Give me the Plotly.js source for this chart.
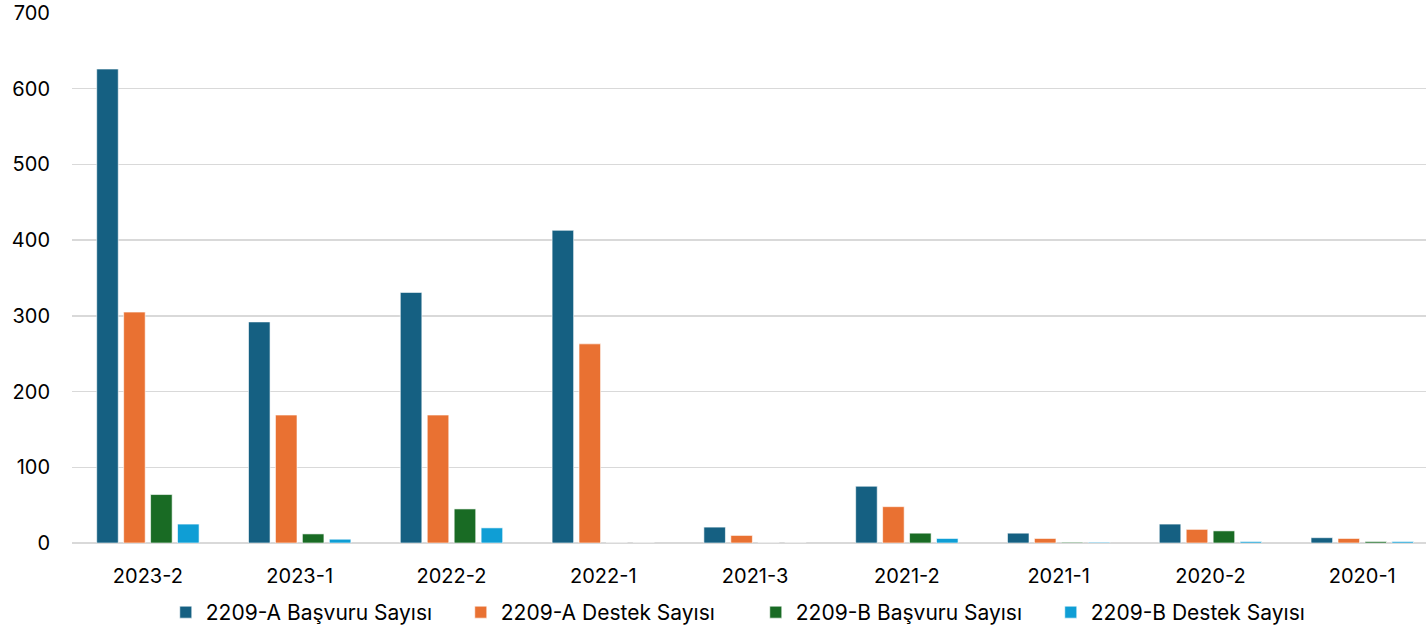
<!DOCTYPE html>
<html>
<head>
<meta charset="utf-8">
<script src="https://cdn.plot.ly/plotly-3.0.1.min.js"></script>
<style>html,body{margin:0;padding:0;background:#fff;}#chart{width:1426px;height:633px;}</style>
</head>
<body>
<div id="chart"></div>
<script>
const categories = ["2023-2","2023-1","2022-2","2022-1","2021-3","2021-2","2021-1","2020-2","2020-1"];
const seriesNames = ["2209-A Başvuru Sayısı","2209-A Destek Sayısı","2209-B Başvuru Sayısı","2209-B Destek Sayısı"];
const aBasvuru = [626, 292, 331, 413, 21, 75, 13, 25, 7];
const aDestek  = [305, 169, 169, 263, 10, 48, 6, 18, 6];
const bBasvuru = [64, 12, 45, 0, 0, 13, 1, 16, 2];
const bDestek  = [25, 5, 20, 0, 0, 6, 1, 2, 2];
const yTicks = [0, 100, 200, 300, 400, 500, 600, 700];
const colors = ["#156082", "#E97132", "#196B24", "#0F9ED5"];

const values = [aBasvuru, aDestek, bBasvuru, bDestek];
const traces = values.map((v, i) => ({
  type: "bar",
  name: seriesNames[i],
  x: categories,
  y: v,
  marker: {color: colors[i], line: {color: "rgba(255,255,255,0.6)", width: 1}},
  hoverinfo: "x+y+name"
}));

const family = "Inter, 'Liberation Sans', sans-serif";
const tickFont = {family: family, size: 20, color: "#000"};
const legendFont = {family: family, size: 21, color: "#000"};
const layout = {
  width: 1426, height: 633,
  margin: {l: 72, r: 0, t: 13, b: 88},
  paper_bgcolor: "#fff", plot_bgcolor: "#fff",
  font: tickFont,
  barmode: "group",
  bargap: 0.29,
  bargroupgap: 0.2,
  showlegend: true,
  legend: {orientation: "h", x: 0.505, xanchor: "center", y: -0.132, yanchor: "middle",
           font: legendFont, itemwidth: 30, traceorder: "normal",
           entrywidth: 250, entrywidthmode: "pixels"},
  xaxis: {type: "category", range: [-0.5, 8.42], showgrid: false, showline: false, zeroline: false,
          ticks: "", tickfont: tickFont, ticklabelstandoff: 19},
  yaxis: {range: [0, 700], tickvals: yTicks, ticktext: yTicks.map(String),
          showgrid: true, gridcolor: "#d9d9d9", gridwidth: 1.3,
          zeroline: true, zerolinecolor: "#d9d9d9", zerolinewidth: 2.5,
          showline: false, ticks: "", tickfont: tickFont, ticklabelstandoff: 21}
};
Plotly.newPlot("chart", traces, layout, {displayModeBar: false, staticPlot: true});
</script>
</body>
</html>
